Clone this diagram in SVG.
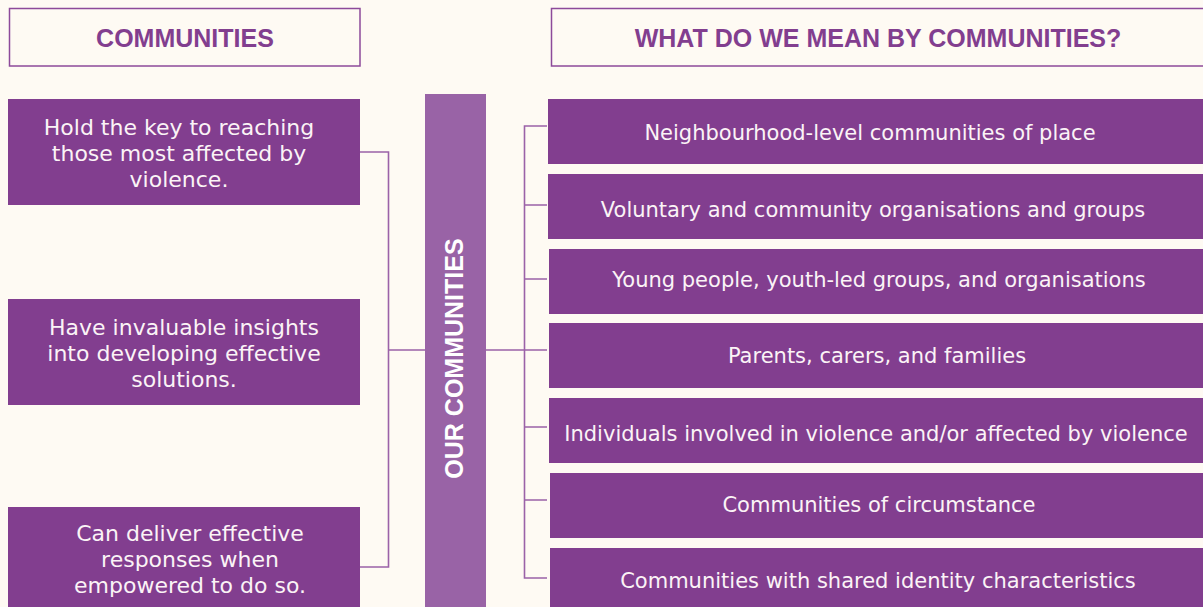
<svg xmlns="http://www.w3.org/2000/svg" width="1203" height="607" viewBox="0 0 1203 607">
<style>
.hdr{fill:none;stroke:#8d4a9a;stroke-width:1.5}
.hdrt{font-family:"Liberation Sans",Arial,sans-serif;font-weight:bold;font-size:25px;fill:#823e8f;text-anchor:middle}
.box{fill:#823e8f}
.bt{font-family:"DejaVu Sans",sans-serif;font-size:22px;fill:#fbf3f6;text-anchor:middle}
.rt{font-family:"DejaVu Sans",sans-serif;font-size:21px;fill:#fbf3f6;text-anchor:middle}
.bar{fill:#9963a6}
.bart{font-family:"Liberation Sans",Arial,sans-serif;font-weight:bold;font-size:25px;fill:#ffffff;text-anchor:middle}
.ln{fill:none;stroke:#9b62a8;stroke-width:1.6}
</style>
<rect width="1203" height="607" fill="#fefaf3"/>
<g id="header-left"><rect class="hdr" x="9.5" y="8.5" width="350.5" height="57.5"/><text class="hdrt" x="185" y="47">COMMUNITIES</text></g>
<g id="header-right"><rect class="hdr" x="551.5" y="8.5" width="660" height="57.5"/><text class="hdrt" x="878" y="47">WHAT DO WE MEAN BY COMMUNITIES?</text></g>
<g id="connectors">
<path class="ln" d="M360 152H388.5V567H360M388.5 350H425"/>
<path class="ln" d="M486 350H524.5M547 126H524.5V578H547M524.5 205H547M524.5 279H547M524.5 350H547M524.5 427H547M524.5 500H547"/>
</g>
<g id="left-1"><rect class="box" x="8" y="99" width="352" height="106"/><text class="bt" x="179" y="135">Hold the key to reaching</text><text class="bt" x="179" y="161">those most affected by</text><text class="bt" x="179" y="187">violence.</text></g>
<g id="left-2"><rect class="box" x="8" y="299" width="352" height="106"/><text class="bt" x="184" y="335">Have invaluable insights</text><text class="bt" x="184" y="361">into developing effective</text><text class="bt" x="184" y="387">solutions.</text></g>
<g id="left-3"><rect class="box" x="8" y="507" width="352" height="100"/><text class="bt" x="190" y="541">Can deliver effective</text><text class="bt" x="190" y="567">responses when</text><text class="bt" x="190" y="593">empowered to do so.</text></g>
<g id="center"><rect class="bar" x="425" y="94" width="61" height="513"/><text class="bart" transform="translate(463 358.5) rotate(-90)">OUR COMMUNITIES</text></g>
<g id="right-1"><rect class="box" x="548" y="99" width="655" height="65"/><text class="rt" x="870" y="140">Neighbourhood-level communities of place</text></g>
<g id="right-2"><rect class="box" x="548" y="174" width="655" height="65"/><text class="rt" x="873" y="217">Voluntary and community organisations and groups</text></g>
<g id="right-3"><rect class="box" x="549" y="249" width="654" height="65"/><text class="rt" x="879" y="287">Young people, youth-led groups, and organisations</text></g>
<g id="right-4"><rect class="box" x="549" y="323" width="654" height="65"/><text class="rt" x="877" y="363">Parents, carers, and families</text></g>
<g id="right-5"><rect class="box" x="549" y="398" width="654" height="65"/><text class="rt" x="876" y="441">Individuals involved in violence and/or affected by violence</text></g>
<g id="right-6"><rect class="box" x="550" y="473" width="653" height="65"/><text class="rt" x="879" y="512">Communities of circumstance</text></g>
<g id="right-7"><rect class="box" x="550" y="548" width="653" height="59"/><text class="rt" x="878" y="588">Communities with shared identity characteristics</text></g>
</svg>
